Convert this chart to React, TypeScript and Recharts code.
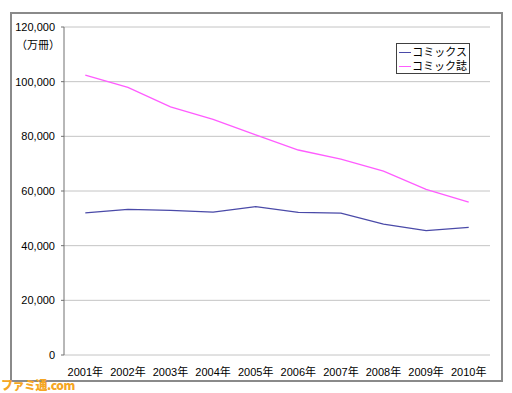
import React from 'react';
import { LineChart, Line, XAxis, YAxis, CartesianGrid } from 'recharts';

const years = ['2001年', '2002年', '2003年', '2004年', '2005年', '2006年', '2007年', '2008年', '2009年', '2010年'];
const comics = [52000, 53300, 52900, 52300, 54300, 52200, 51900, 47900, 45500, 46700];
const magazines = [102400, 97900, 90800, 86200, 80500, 75000, 71700, 67300, 60600, 55900];
const yTicks = [0, 20000, 40000, 60000, 80000, 100000, 120000];
const boundaryTicks = [0, 1, 2, 3, 4, 5, 6, 7, 8, 9, 10];

const SERIES = [
  { key: 'comics', name: 'コミックス', color: '#4a4aa8' },
  { key: 'magazines', name: 'コミック誌', color: '#ff5cff' },
];

const data = years.map((year, i) => ({ year, comics: comics[i], magazines: magazines[i] }));

const JP_FONT = '"Liberation Sans", "Noto Sans CJK JP", sans-serif';

function LegendBox() {
  return (
    <div
      style={{
        position: 'absolute',
        left: 396,
        top: 43,
        width: 74,
        height: 31,
        boxSizing: 'border-box',
        border: '1px solid #404040',
        background: '#fff',
        padding: '1px 2px',
        fontFamily: JP_FONT,
        fontSize: 11,
        lineHeight: '14px',
        color: '#000',
        whiteSpace: 'nowrap',
      }}
    >
      {SERIES.map((s) => (
        <div key={s.key} style={{ display: 'flex', alignItems: 'center' }}>
          <span style={{ display: 'inline-block', width: 20, height: 1, background: s.color, marginRight: 1 }} />
          <span>{s.name}</span>
        </div>
      ))}
    </div>
  );
}

export default function App() {
  return (
    <div style={{ position: 'fixed', left: 0, top: 0, width: 512, height: 393, background: '#fff' }}>
      <div
        style={{
          position: 'absolute',
          left: 10,
          top: 12,
          width: 489,
          height: 366,
          border: '2px solid #8a8a8a',
        }}
      />
      <div style={{ position: 'absolute', left: 0, top: 0 }}>
        <LineChart width={512} height={393} data={data} margin={{ top: 27, right: 22, bottom: 0, left: 0 }}>
          <CartesianGrid vertical={false} stroke="#c4c4c4" />
          <XAxis
            xAxisId="edge"
            type="number"
            domain={[0, 10]}
            ticks={boundaryTicks}
            tick={false}
            tickSize={4}
            height={0}
            stroke="#707070"
            allowDataOverflow
          />
          <XAxis
            xAxisId="cat"
            dataKey="year"
            scale="band"
            height={38}
            axisLine={false}
            tickLine={false}
            tickMargin={7}
            tick={{ fontSize: 11, fill: '#000', fontFamily: JP_FONT }}
            interval={0}
          />
          <YAxis
            domain={[0, 120000]}
            ticks={yTicks}
            width={64}
            tickSize={3}
            tickMargin={6}
            stroke="#707070"
            tick={{ fontSize: 11, fill: '#000', fontFamily: JP_FONT }}
            tickFormatter={(v) => Number(v).toLocaleString('en-US')}
          />
          <YAxis yAxisId="right" orientation="right" width={0} tick={false} tickLine={false} stroke="#a0a0a0" />
          {SERIES.map((s) => (
            <Line
              key={s.key}
              xAxisId="cat"
              dataKey={s.key}
              name={s.name}
              stroke={s.color}
              strokeWidth={1.3}
              dot={false}
              isAnimationActive={false}
            />
          ))}
        </LineChart>
      </div>
      <LegendBox />
      <div
        style={{
          position: 'absolute',
          left: 16,
          top: 36,
          fontFamily: JP_FONT,
          fontSize: 11,
          color: '#000',
        }}
      >
        （万冊）
      </div>
      <div
        style={{
          position: 'absolute',
          left: 1,
          top: 378,
          fontFamily: '"Noto Sans CJK JP", sans-serif',
          fontWeight: 900,
          fontSize: 12,
          lineHeight: '14px',
          color: '#f5a623',
          letterSpacing: -0.5,
        }}
      >
        ファミ通.com
      </div>
    </div>
  );
}
